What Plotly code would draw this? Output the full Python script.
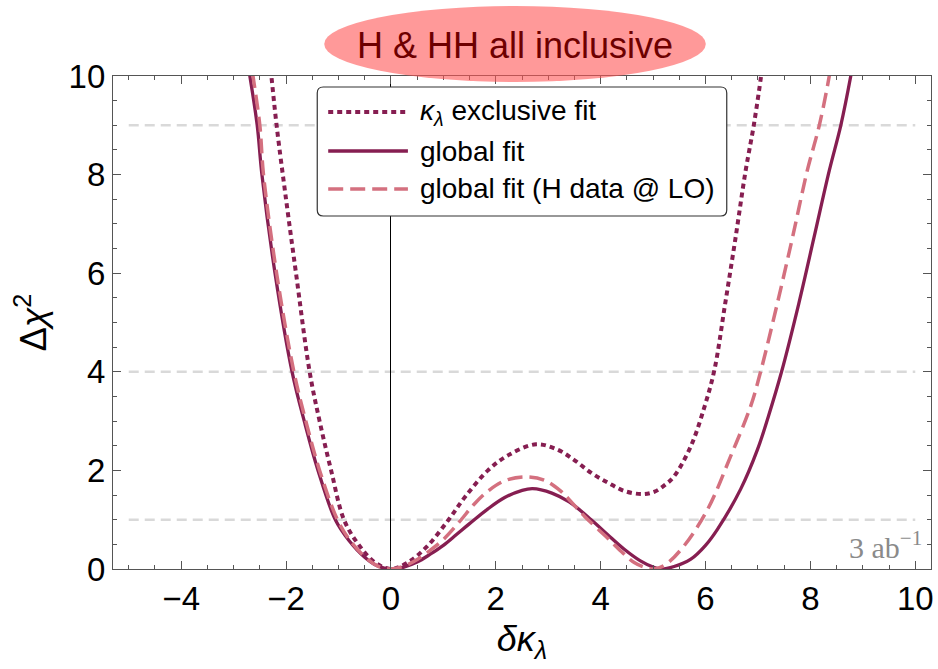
import plotly.graph_objects as go

# ---------------- data ----------------
excl_x = [-2.33, -2.28, -2.18, -2.0, -1.81, -1.55, -1.36, -1.14, -0.895, -0.62, -0.30, 0.0,
          0.32, 0.70, 1.10, 1.42, 1.85, 2.24, 2.77, 3.18, 3.51, 3.82, 4.14, 4.46, 4.8, 5.03,
          5.22, 5.40, 5.72, 5.98, 6.17, 6.37, 6.57, 6.76, 6.92, 7.06, 7.12]
excl_y = [10.5, 10.0, 9.0, 7.5, 6.0, 4.0, 3.0, 2.0, 1.0, 0.5, 0.13, 0.0,
          0.13, 0.47, 1.0, 1.47, 2.0, 2.31, 2.53, 2.42, 2.2, 1.95, 1.75, 1.58, 1.52, 1.57,
          1.70, 1.88, 2.49, 3.29, 4.04, 5.35, 6.7, 8.05, 9.0, 10.0, 10.5]

glob_x = [-2.77, -2.69, -2.55, -2.46, -2.21, -1.885, -1.64, -1.39, -1.06, -0.80, -0.50, -0.25,
          0.0, 0.25, 0.5, 0.75, 1.0, 1.25, 1.5, 1.85, 2.17, 2.49, 2.70, 3.07, 3.40, 3.82,
          4.13, 4.45, 4.75, 5.0, 5.15, 5.4, 5.72, 6.0, 6.23, 6.67, 6.99, 7.2, 7.45, 7.78,
          8.07, 8.36, 8.58, 8.77, 8.85]
glob_y = [10.5, 10.0, 9.0, 8.0, 6.0, 4.0, 2.95, 2.0, 1.0, 0.58, 0.24, 0.06,
          0.0, 0.04, 0.14, 0.3, 0.48, 0.7, 0.92, 1.22, 1.45, 1.59, 1.63, 1.54, 1.36, 1.0,
          0.70, 0.40, 0.17, 0.04, 0.0, 0.05, 0.2, 0.48, 0.81, 1.62, 2.42, 3.1, 4.0, 5.39,
          6.73, 8.08, 9.0, 10.0, 10.5]

lo_x = [-2.70, -2.63, -2.50, -2.43, -2.18, -1.85, -1.61, -1.36, -1.02, -0.78, -0.50, -0.25,
        0.0, 0.25, 0.51, 0.75, 1.0, 1.3, 1.6, 1.85, 2.17, 2.55, 2.93, 3.24, 3.38, 3.70,
        4.13, 4.40, 4.64, 4.85, 5.02, 5.25, 5.59, 6.04, 6.48, 6.86, 7.05, 7.37, 7.66,
        7.94, 8.17, 8.36, 8.43]
lo_y = [10.5, 10.0, 9.0, 8.0, 6.0, 4.0, 2.95, 2.0, 1.0, 0.58, 0.25, 0.06,
        0.0, 0.06, 0.2, 0.38, 0.6, 0.95, 1.33, 1.58, 1.79, 1.87, 1.80, 1.58, 1.43, 1.06,
        0.63, 0.35, 0.13, 0.03, 0.0, 0.1, 0.47, 1.21, 2.29, 3.30, 4.0, 5.39, 6.73,
        8.08, 9.0, 10.0, 10.5]

series_names = ["<i>κ</i><sub><i>λ</i></sub> exclusive fit", "global fit",
                "global fit (H data @ LO)"]
cl_levels = [1, 4, 9]          # Δχ² reference levels
cl_span = [-5, 10]             # x extent of the reference lines
x_ticks = [-4, -2, 0, 2, 4, 6, 8, 10]
y_ticks = [0, 2, 4, 6, 8, 10]
title_text = "H & HH all inclusive"
lumi_text = "3 ab<sup>−1</sup>"

# ---------------- styles ----------------
DARK = "#861E51"
PINK = "#D4707F"
styles = [dict(color=DARK, width=4, dash="5px,4px"),
          dict(color=DARK, width=3.3, dash="solid"),
          dict(color=PINK, width=3.5, dash="15px,7px")]

fig = go.Figure()

for lv in cl_levels:
    fig.add_shape(type="line", xref="x", yref="y", x0=cl_span[0], x1=cl_span[1],
                  y0=lv, y1=lv, line=dict(color="#D9D9D9", width=2.5, dash="10px,6px"),
                  layer="below")

for xs, ys, nm, st in zip([excl_x, glob_x, lo_x], [excl_y, glob_y, lo_y], series_names, styles):
    fig.add_trace(go.Scatter(x=xs, y=ys, mode="lines", name=nm,
                             line=dict(shape="spline", smoothing=1.0, **st),
                             showlegend=False))

# plot-area geometry in px (for paper coordinates)
L, R, T, B = 113, 934, 76, 569
W, H = R - L, B - T
def px(xp):
    return (xp - L) / W
def py(yp):
    return (B - yp) / H

# title ellipse
fig.add_shape(type="circle", xref="paper", yref="paper",
              x0=px(325), x1=px(708), y0=py(82), y1=py(6),
              fillcolor="#FF5555", opacity=0.6, line=dict(width=0), layer="above")
fig.add_annotation(xref="paper", yref="paper", x=px(516), y=py(45), text=title_text,
                   showarrow=False, xanchor="center", yanchor="middle",
                   font=dict(family="Liberation Sans, Arial", size=36, color="#6E0000"))

# legend box (rounded)
bx0, bx1, by0, by1 = px(318), px(729), py(216), py(87)
rx, ry = 6 / W, 6 / H
path = (f"M {bx0+rx},{by0} L {bx1-rx},{by0} Q {bx1},{by0} {bx1},{by0+ry} "
        f"L {bx1},{by1-ry} Q {bx1},{by1} {bx1-rx},{by1} L {bx0+rx},{by1} "
        f"Q {bx0},{by1} {bx0},{by1-ry} L {bx0},{by0+ry} Q {bx0},{by0} {bx0+rx},{by0} Z")
fig.add_shape(type="path", xref="paper", yref="paper", path=path,
              fillcolor="white", line=dict(color="#333333", width=1.2), layer="above")
rows = [112, 151, 189]
for rowy, nm, st in zip(rows, series_names, styles):
    fig.add_shape(type="line", xref="paper", yref="paper", x0=px(329), x1=px(409),
                  y0=py(rowy), y1=py(rowy),
                  line=dict(color=st["color"], width=st["width"], dash=st["dash"]),
                  layer="above")
    fig.add_annotation(xref="paper", yref="paper", x=px(419), y=py(rowy), text=nm,
                       showarrow=False, xanchor="left", yanchor="middle",
                       font=dict(family="Liberation Sans, Arial", size=28, color="black"))

# luminosity label
fig.add_annotation(xref="paper", yref="paper", x=px(927), y=py(545), text=lumi_text,
                   showarrow=False, xanchor="right", yanchor="middle",
                   font=dict(family="Liberation Serif, Times New Roman", size=30, color="#8A8A8A"))

axis_common = dict(ticks="inside", ticklen=8, tickwidth=1, tickcolor="#555555",
                   showline=True, linecolor="#555555", linewidth=1.2, mirror="allticks",
                   showgrid=False,
                   minor=dict(ticks="inside", ticklen=4, tickwidth=1, tickcolor="#555555",
                              dtick=0.5, showgrid=False),
                   tickfont=dict(family="Liberation Sans, Arial", size=33, color="black"))

fig.update_xaxes(range=[-5.3, 10.3], tickvals=x_ticks, zeroline=True, zerolinecolor="black",
                 zerolinewidth=1,
                 title=dict(text="<i>δκ</i><sub><i>λ</i></sub>",
                            font=dict(family="Liberation Sans, Arial", size=36, color="black"),
                            standoff=10),
                 **axis_common)
fig.update_yaxes(range=[0, 10], tickvals=y_ticks, zeroline=False,
                 title=dict(text="Δ<i>χ</i><sup>2</sup>",
                            font=dict(family="Liberation Sans, Arial", size=36, color="black"),
                            standoff=10),
                 **axis_common)

fig.update_layout(width=938, height=669, margin=dict(l=L, r=938 - R, t=T, b=669 - B),
                  plot_bgcolor="white", paper_bgcolor="white", showlegend=False)

fig.write_html("out.html")
